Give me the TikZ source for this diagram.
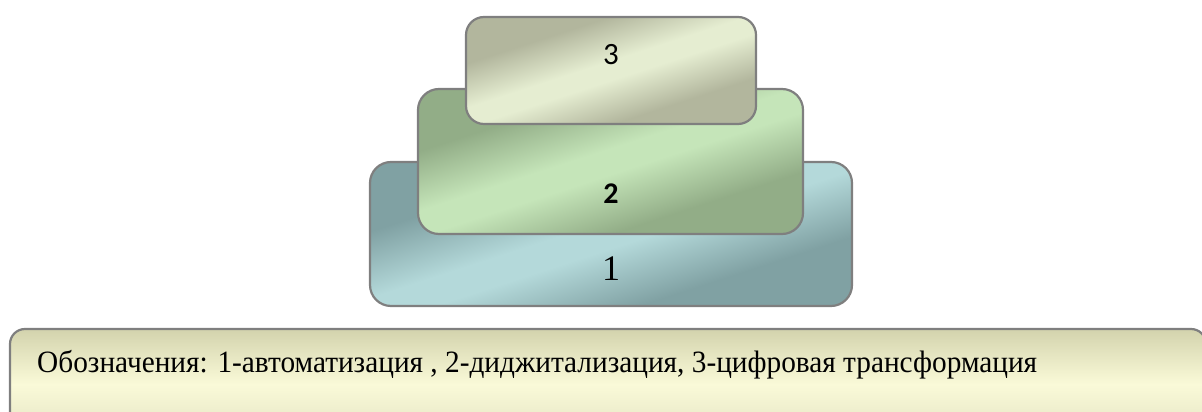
\documentclass[tikz,border=0pt]{standalone}
\usepackage{fontspec}
\setmainfont{Liberation Serif}
\newfontfamily\calib{Carlito}
\usepackage{graphicx}

% level colours: dark edge / light band
\definecolor{tealD}{HTML}{80A1A3}
\definecolor{tealL}{HTML}{B4D9DA}
\definecolor{greenD}{HTML}{92AD87}
\definecolor{greenL}{HTML}{C5E5B9}
\definecolor{sandD}{HTML}{B2B69D}
\definecolor{sandL}{HTML}{E5EDD1}
\definecolor{noteD}{HTML}{D3D3AD}
\definecolor{noteL}{HTML}{FAFAD8}
\definecolor{noteB}{HTML}{E2E2C2}
\definecolor{rim}{HTML}{7F7F7F}

\pgfdeclarehorizontalshading{tealband}{100bp}{color(0bp)=(tealD);color(33bp)=(tealD);color(47bp)=(tealL);color(53bp)=(tealL);color(67bp)=(tealD);color(100bp)=(tealD)}
\pgfdeclarehorizontalshading{greenband}{100bp}{color(0bp)=(greenD);color(33bp)=(greenD);color(47bp)=(greenL);color(53bp)=(greenL);color(67bp)=(greenD);color(100bp)=(greenD)}
\pgfdeclarehorizontalshading{sandband}{100bp}{color(0bp)=(sandD);color(33bp)=(sandD);color(47bp)=(sandL);color(53bp)=(sandL);color(67bp)=(sandD);color(100bp)=(sandD)}

\tikzset{
  level/.style={draw=rim, line width=2.2pt, rounded corners=21pt, shade,
    shading angle=-72, inner sep=0pt},
  digit/.style={anchor=base, inner sep=0pt, text=black}
}

\begin{document}
\begin{tikzpicture}[x=1pt,y=1pt]
\useasboundingbox (0,0) rectangle (1202,412);
\clip (0,0) rectangle (1202,412);

% three stacked levels, bottom one first
\node[level, shading=tealband, minimum width=482pt, minimum height=144pt] (lvl1) at (611,178) {};
\node[level, shading=greenband, minimum width=385pt, minimum height=145pt] (lvl2) at (610.5,250.5) {};
\node[level, shading=sandband, minimum width=290pt, minimum height=107pt, rounded corners=18pt] (lvl3) at (611,341.5) {};

\node[digit, font=\fontsize{36}{36}\selectfont] (n1) at (611,131) {1};
\node[digit, font=\calib\bfseries\fontsize{30}{30}\selectfont] (n2) at (611,208) {2};
\node[digit, font=\calib\fontsize{31}{31}\selectfont] (n3) at (611,347) {3};

% legend panel
\node[draw=rim, line width=2.2pt, rounded corners=15pt, inner sep=0pt,
      top color=noteD, bottom color=noteB, middle color=noteL,
      minimum width=1196pt, minimum height=111pt] (legend) at (608,27.5) {};
\node[anchor=base west, inner sep=0pt, font=\fontsize{31}{31}\selectfont] (legtext) at (37,39)
  {\resizebox{1000pt}{\height}{Обозначения: 1-автоматизация , 2-диджитализация, 3-цифровая трансформация}};
\end{tikzpicture}
\end{document}
